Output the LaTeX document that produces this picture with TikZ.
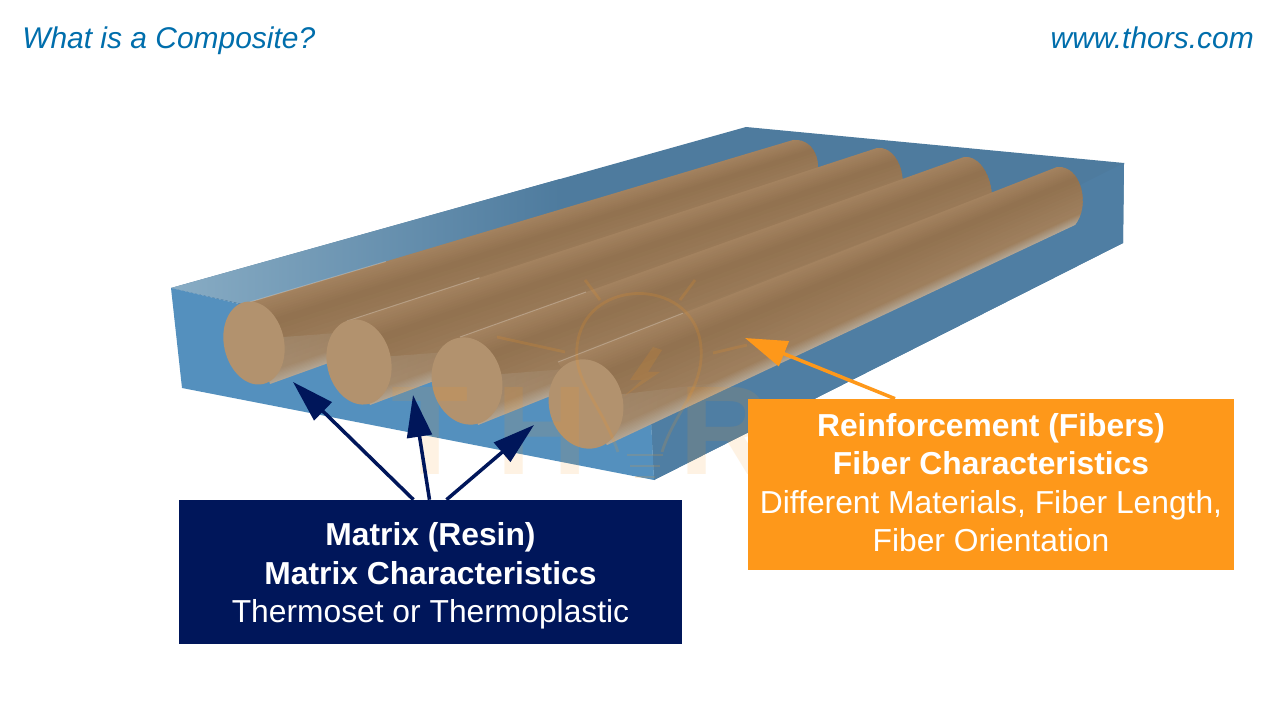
\documentclass[tikz,border=0pt]{standalone}
\usepackage{fontspec}
\setmainfont{Liberation Sans}
\usetikzlibrary{arrows.meta, positioning, calc, fadings}

\definecolor{thorsblue}{RGB}{0,110,172}
\definecolor{navybox}{RGB}{0,22,90}
\definecolor{orangebox}{RGB}{254,152,26}
\definecolor{frontface}{RGB}{84,144,190}
\definecolor{sideface}{RGB}{79,126,163}
\definecolor{topface}{RGB}{78,123,158}
\definecolor{toplight}{RGB}{136,172,196}
\definecolor{rodend}{RGB}{178,146,110}
\definecolor{rodtop}{RGB}{163,130,95}
\definecolor{roddark}{RGB}{146,114,80}
\definecolor{rodlow}{RGB}{158,127,93}
\definecolor{rodedge}{RGB}{178,164,146}

% one band of the fiber, between two fractions of its width
\newcommand{\rodband}[4]{
    \foreach \i in {0,...,9}{
        \pgfmathsetmacro\ta{#1+(#2-#1)*\i/10}
        \pgfmathsetmacro\tb{#1+(#2-#1)*(\i+1.5)/10}
        \pgfmathsetmacro\pc{100-\i*100/9}
        \fill [#3!\pc!#4] ($(ft)!\ta!(fb)$) -- ($(ft)!\tb!(fb)$) -- ($(ct)!\tb!(cb)$) -- ($(ct)!\ta!(cb)$) -- cycle;
    }
}
% front top, front bottom, back top, back bottom, centre of the cut end, its radii
\newcommand{\fiberrod}[7]{
    \coordinate (ft) at (#1);
    \coordinate (fb) at (#2);
    \coordinate (bt) at (#3);
    \coordinate (bb) at (#4);
    \coordinate (ct) at ($(ft)!1.08!(bt)$);
    \coordinate (cb) at ($(fb)!1.08!(bb)$);
    \begin{scope}
        \clip (ft) -- (bt) .. controls +(24,-2) and ($(bb)+(16,-20)$) .. (bb) -- (fb) -- cycle;
        \rodband{0}{0.3}{rodtop}{roddark}
        \rodband{0.3}{0.85}{roddark}{rodlow}
        \rodband{0.85}{1}{rodlow}{rodedge}
        % the resin pales the fiber near the cut end
        \fill [rodedge, opacity=0.35, path fading=east] ($(ft)!0.45!(fb)$) -- (fb) -- ($(fb)!0.3!(bb)$) -- cycle;
    \end{scope}
    \draw [white, opacity=0.25, line width=0.7pt] (ft) -- ($(ft)!0.25!(bt)$);
    \fill [rodend] (#5) circle [x radius=#6, y radius=#7, rotate=12.5];
}

\begin{document}
\begin{tikzpicture}[
    x=0.025cm, y=-0.025cm,
    heading/.style={text=thorsblue, font=\fontsize{21.3}{25}\selectfont\itshape, inner sep=0pt},
    matrixnode/.style={rectangle, fill=navybox, text=white, minimum width=12.575cm, minimum height=3.6cm, align=center, font=\fontsize{22.6}{27.2}\selectfont, inner sep=0pt},
    fibernode/.style={rectangle, fill=orangebox, text=white, minimum width=12.15cm, minimum height=4.275cm, align=center, font=\fontsize{22.6}{27.2}\selectfont, inner sep=0pt},
    mark letter/.style={text=orangebox, text opacity=0.12, font=\fontsize{90}{90}\selectfont\bfseries, inner sep=0pt},
    markline/.style={draw=orangebox, opacity=0.16, line width=2pt},
    matrixline/.style={draw=navybox, line width=2.5pt, -{Stealth[length=1.05cm, width=0.62cm, inset=0pt]}},
    fiberline/.style={draw=orangebox, line width=2.5pt, -{Stealth[length=1.05cm, width=0.66cm, inset=0pt]}}
]
    \useasboundingbox (0,0) rectangle (1280,720);
    \fill [white] (0,0) rectangle (1280,720);

    % block of resin
    \fill [topface] (171,288) -- (746,127) -- (1124,163) -- (1123,243) -- (654,480) -- (650,400) -- cycle;
    \shade [left color=toplight, right color=topface] (171,288) -- (560,179) -- (560,375) -- cycle;
    \fill [sideface] (650,400) -- (1124,163) -- (1123,243) -- (654,480) -- cycle;
    \fill [frontface] (171,288) -- (650,400) -- (654,480) -- (182,388) -- cycle;

    % fibers, back one first
    \fiberrod{250,302}{270,384}{793,140}{810,190}{254,343}{30}{42}
    \fiberrod{347,321}{370,405}{877,148}{895,208}{359,362}{32}{43}
    \fiberrod{460,337}{478,425}{964,157}{985,222}{467,381}{35}{44}
    \fiberrod{558,362}{607,445}{1057,167}{1075,225}{586,404}{37}{45}

    % faint mark over the block
    \node [mark letter] (markt) at (430,431) {T};
    \node [mark letter] (markh) at (542,431) {H};
    \node [mark letter] (markr) at (725,431) {R};
    \draw [markline] (618,452) .. controls (600,400) and (570,380) .. (578,340) .. controls (590,278) and (688,278) .. (700,340) .. controls (708,385) and (675,410) .. (662,452);
    \draw [markline] (627,455) -- (663,455) (630,466) -- (660,466) (635,477) -- (655,477);
    \fill [orangebox, opacity=0.14] (653,347) -- (630,380) -- (642,380) -- (623,397) -- (660,372) -- (648,372) -- (662,350) -- cycle;
    \draw [markline] (565,352) -- (497,337) (713,353) -- (747,345) (600,300) -- (585,280) (680,300) -- (695,280);

    \node [heading, anchor=base west] (title) at (22,48.5) {What is a Composite?};
    \node [heading, anchor=base east] (site) at (1254,48.5) {www.thors.com};

    \node [matrixnode] (matrixbox) at (430.5,572) {\rule{0pt}{22pt}\textbf{Matrix (Resin)}\\\textbf{Matrix Characteristics}\\Thermoset or Thermoplastic};
    \node [fibernode] (fiberbox) at (991,484.5) {\textbf{Reinforcement (Fibers)}\\\textbf{Fiber Characteristics}\\Different Materials, Fiber Length,\\Fiber Orientation\rule[-3pt]{0pt}{3pt}};

    \coordinate (matrixtipa) at (293,382);
    \coordinate (matrixtipb) at (413,395);
    \coordinate (matrixtipc) at (534,425);
    \coordinate (fibertip) at (745,338);

    \draw [matrixline] ($(matrixbox.north)+(-17,0)$) -- (matrixtipa);
    \draw [matrixline] ($(matrixbox.north)+(-1,0)$) -- (matrixtipb);
    \draw [matrixline] ($(matrixbox.north)+(16,0)$) -- (matrixtipc);
    \draw [fiberline] ($(fiberbox.north)+(-96,0)$) -- (fibertip);
\end{tikzpicture}
\end{document}
